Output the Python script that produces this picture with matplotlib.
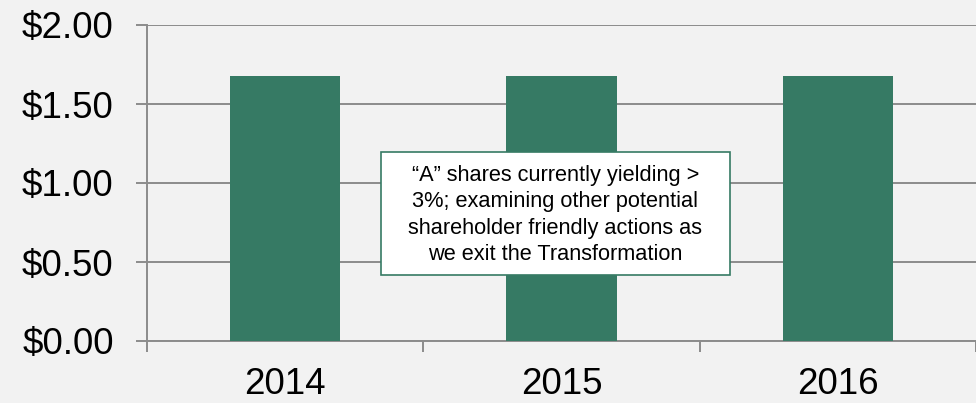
import matplotlib
matplotlib.use("Agg")
import matplotlib.pyplot as plt
from matplotlib.patches import Rectangle
from matplotlib.ticker import FuncFormatter

categories = ["2014", "2015", "2016"]
dividends = [1.68, 1.68, 1.68]
y_ticks = [0.0, 0.5, 1.0, 1.5, 2.0]
note = "\u201cA\u201d shares currently yielding >\n3%; examining other potential\nshareholder friendly actions as\nwe exit the Transformation"

plt.rcParams['font.family'] = ['Liberation Sans', 'DejaVu Sans']
bg = '#F2F2F2'
green = '#367A64'
grid = '#8C8C8C'

fig = plt.figure(figsize=(9.76, 4.03), dpi=100, facecolor=bg)
ax = fig.add_axes([147/976, 1 - 341/403, 1 - 147/976, (341 - 25)/403])
ax.set_facecolor(bg)

x = list(range(len(categories)))
ax.bar(x, dividends, width=0.4, color=green, zorder=3)

ax.set_xlim(-0.5, len(categories) - 0.5)
ax.set_ylim(0, 2.0)
ax.set_yticks(y_ticks)
ax.yaxis.set_major_formatter(FuncFormatter(lambda v, p: f"${v:.2f}"))
ax.grid(axis='y', color=grid, linewidth=1.4, zorder=0)
ax.set_axisbelow(True)

ax.set_xticks(x)
ax.set_xticklabels(categories)
ax.set_xticks([i - 0.5 for i in range(len(categories) + 1)], minor=True)
ax.tick_params(axis='x', which='major', length=0, labelsize=26.5, pad=18.5, colors='black')
ax.tick_params(axis='x', which='minor', length=8, width=1.4, color=grid)
ax.tick_params(axis='y', length=8, width=1.4, color=grid, labelsize=26.5, pad=16, labelcolor='black')

for s in ['top', 'right']:
    ax.spines[s].set_visible(False)
for s in ['left', 'bottom']:
    ax.spines[s].set_color(grid)
    ax.spines[s].set_linewidth(1.4)

# annotation box
fig.patches.append(Rectangle((381/976, 1 - 275/403), 349/976, 123/403,
                             transform=fig.transFigure, facecolor='white',
                             edgecolor=green, linewidth=1.2, zorder=5))
fig.text(555.5/976, 1 - 215/403, note, ha='center', va='center',
         fontsize=15.7, linespacing=1.33, color='black', zorder=6)

fig.savefig("out.png", dpi=100, facecolor=bg)
